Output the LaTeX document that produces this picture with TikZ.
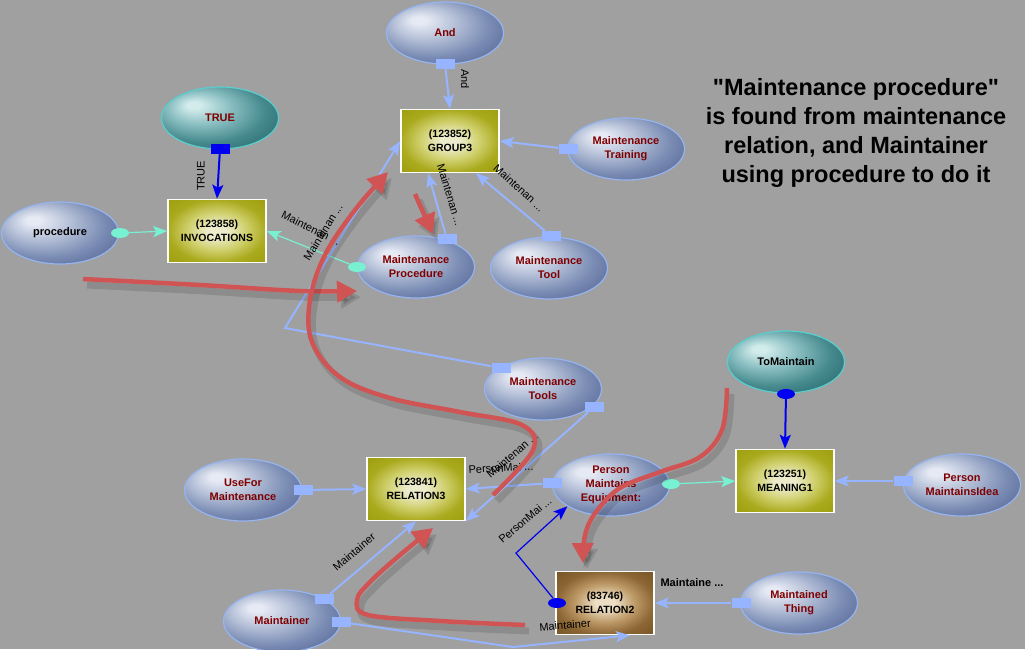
\documentclass[tikz,border=0pt]{standalone}
\usepackage{fontspec}
\setmainfont{Liberation Sans}[Ligatures=TeXOff]
\usetikzlibrary{shapes.geometric,arrows.meta,calc}
\definecolor{bg}{RGB}{160,160,160}
\definecolor{bl1}{RGB}{230,234,244}
\definecolor{bl2}{RGB}{182,193,216}
\definecolor{bl3}{RGB}{122,140,180}
\definecolor{bl4}{RGB}{86,104,148}
\definecolor{te1}{RGB}{210,235,235}
\definecolor{te2}{RGB}{140,192,195}
\definecolor{te3}{RGB}{70,138,142}
\definecolor{te4}{RGB}{38,105,110}
\definecolor{ol1}{RGB}{236,236,205}
\definecolor{ol2}{RGB}{208,208,110}
\definecolor{ol3}{RGB}{170,170,30}
\definecolor{ol4}{RGB}{158,158,15}
\definecolor{br1}{RGB}{236,222,196}
\definecolor{br2}{RGB}{190,155,105}
\definecolor{br3}{RGB}{140,102,52}
\definecolor{br4}{RGB}{120,86,40}
\definecolor{ellline}{RGB}{150,180,240}
\definecolor{tealline}{RGB}{90,205,205}
\definecolor{dred}{RGB}{128,0,0}
\definecolor{lblue}{RGB}{150,180,255}
\definecolor{cyanc}{RGB}{120,240,210}
\definecolor{dblue}{RGB}{0,0,240}
\definecolor{redc}{RGB}{208,84,84}
\pgfdeclareradialshading{blueball}{\pgfpoint{-12bp}{11bp}}{color(0bp)=(bl1); color(3bp)=(bl1); color(13bp)=(bl2); color(25bp)=(bl3); color(36bp)=(bl4); color(50bp)=(bl4)}
\pgfdeclareradialshading{tealball}{\pgfpoint{-12bp}{11bp}}{color(0bp)=(te1); color(3bp)=(te1); color(13bp)=(te2); color(25bp)=(te3); color(36bp)=(te4); color(50bp)=(te4)}
\pgfdeclareradialshading{oliveball}{\pgfpointorigin}{color(0bp)=(ol1); color(5bp)=(ol1); color(15bp)=(ol2); color(25bp)=(ol3); color(35bp)=(ol4); color(50bp)=(ol4)}
\pgfdeclareradialshading{brownball}{\pgfpointorigin}{color(0bp)=(br1); color(5bp)=(br1); color(15bp)=(br2); color(25bp)=(br3); color(35bp)=(br4); color(50bp)=(br4)}
\tikzset{
  ell/.style={ellipse, minimum width=117pt, minimum height=62pt, inner sep=0pt,
    draw=ellline, line width=1.2pt, shade, shading=blueball, text=dred, align=center,
    font=\bfseries\fontsize{11}{14}\selectfont},
  tealell/.style={ell, draw=tealline, shading=tealball},
  rect/.style={rectangle, minimum width=98pt, minimum height=63pt, inner sep=0pt,
    draw=white!85!ol1, line width=1.5pt, shade, shading=oliveball, align=center,
    font=\bfseries\fontsize{10.5}{14}\selectfont},
  brownrect/.style={rect, shading=brownball},
  sq/.style={rectangle, fill=lblue, minimum width=19pt, minimum height=10pt, inner sep=0pt},
  bsq/.style={sq, fill=dblue},
  cdot/.style={ellipse, fill=cyanc, minimum width=18pt, minimum height=10pt, inner sep=0pt},
  bdot/.style={cdot, fill=dblue},
  lk/.style={draw=lblue, line width=2pt, -{Stealth[length=14pt,width=11pt,inset=3pt]}},
  lkb/.style={draw=dblue, line width=1.2pt, -{Stealth[length=14pt,width=11pt,inset=3pt]}},
  lkbt/.style={draw=dblue, line width=2pt, -{Stealth[length=14pt,width=11pt,inset=3pt]}},
  lkc/.style={draw=cyanc, line width=1.2pt, -{Stealth[length=14pt,width=11pt,inset=3pt]}},
  lbl/.style={font=\fontsize{11}{13}\selectfont, inner sep=1pt},
  rarrow/.style={draw=redc, line width=4.5pt, -{Triangle[length=20pt,width=21pt]}},
  rshadow/.style={draw=black, draw opacity=0.12, line width=7pt, -{Triangle[length=20pt,width=21pt]}, fill opacity=0.12}
}
\newcommand{\redcurve}[1]{%
  \draw[rshadow, shift={(4,6)}] plot[smooth, tension=0.6] coordinates {#1};
  \draw[rarrow] plot[smooth, tension=0.6] coordinates {#1};}
\begin{document}
\begin{tikzpicture}[x=1pt,y=-1pt]
\fill[bg] (0,0) rectangle (1025,649);
\useasboundingbox (0,0) rectangle (1025,649);

% nodes
\node[ell] (and) at (445,33) {And};
\node[tealell] (true) at (220,118) {TRUE};
\node[rect] (group3) at (450,141) {(123852)\\GROUP3};
\node[ell] (mtrain) at (626,149) {Maintenance\\Training};
\node[rect] (inv) at (217,231) {(123858)\\INVOCATIONS};
\node[ell, text=black] (proc) at (60,233) {procedure};
\node[ell] (mproc) at (416,267) {Maintenance\\Procedure};
\node[ell] (mtool) at (549,268) {Maintenance\\Tool};
\node[ell] (mtools) at (543,389) {Maintenance\\Tools};
\node[tealell, text=black] (tomaint) at (786,362) {ToMaintain};
\node[ell] (usefor) at (243,490) {UseFor\\Maintenance};
\node[rect] (rel3) at (416,489) {(123841)\\RELATION3};
\node[ell] (pme) at (611,485) {Person\\Maintains\\Equipment:};
\node[rect] (mean) at (785,481) {(123251)\\MEANING1};
\node[ell] (pmi) at (962,485) {Person\\MaintainsIdea};
\node[ell] (maint) at (282,621) {Maintainer};
\node[brownrect] (rel2) at (605,603) {(83746)\\RELATION2};
\node[ell] (mthing) at (799,603) {Maintained\\Thing};

% tails
\node[sq] (sAnd) at (445,64) {};
\node[bsq] (sTrue) at (220,149) {};
\node[cdot] (dProc) at (120,233) {};
\node[cdot] (dMproc) at (357,267) {};
\node[sq] (sMproc) at (447,239) {};
\node[sq] (sMtool) at (551,236) {};
\node[sq] (sMtrain) at (568,149) {};
\node[sq] (sMtools1) at (501,368) {};
\coordinate (k1) at (285,328);
\node[sq] (sMtools2) at (594,407) {};
\node[sq] (sPme) at (552,483) {};
\node[bdot] (dRel2) at (557,603) {};
\coordinate (k2) at (516,553);
\node[cdot] (dPme) at (671,484) {};
\node[bdot] (dTom) at (786,394) {};
\node[sq] (sPmi) at (903,481) {};
\node[sq] (sMthing) at (741,603) {};
\node[sq] (sMaint1) at (324,599) {};
\node[sq] (sMaint2) at (341,622) {};
\coordinate (k3) at (513,647);
\node[sq] (sUse) at (303,490) {};

% links
\draw[lk] (sAnd) -- (group3.north);
\draw[lkbt] (sTrue) -- (inv.north);
\draw[lkc] (dProc) -- (inv.west);
\draw[lkc] (dMproc) -- (inv.east);
\draw[lk] (sMproc) -- ([xshift=-22pt]group3.south);
\draw[lk] (sMtool) -- ([xshift=26pt]group3.south);
\draw[lk] (sMtrain) -- (group3.east);
\draw[lk] (sMtools1) -- (k1) -- (group3.west);
\draw[lk] (sMtools2) -- (rel3.south east);
\draw[lk] (sPme) -- (rel3.east);
\draw[lkb] (dRel2) -- (k2) -- (pme.206);
\draw[lkc] (dPme) -- (mean.west);
\draw[lkbt] (dTom) -- (mean.north);
\draw[lk] (sPmi) -- (mean.east);
\draw[lk] (sMthing) -- (rel2.east);
\draw[lk] (sMaint1) -- (rel3.south);
\draw[lk] (sMaint2) -- (k3) -- ([xshift=25pt]rel2.south);
\draw[lk] (sUse) -- (rel3.west);

% link labels
\node[lbl, rotate=-90] (l1) at (465,79) {And};
\node[lbl, rotate=90] (l2) at (201,176) {TRUE};
\node[lbl, rotate=-26] (l3) at (311,228) {Maintenan ...};
\node[lbl, rotate=58] (l4) at (323,232) {Maintenan ...};
\node[lbl, rotate=-73] (l5) at (450,195) {Maintenan ...};
\node[lbl, rotate=-42] (l6) at (519,188) {Maintenan ...};
\node[lbl, rotate=41] (l7) at (512,455) {Maintenan ...};
\node[lbl, rotate=3] (l8) at (501,468) {PersonMai ...};
\node[lbl, rotate=40] (l9) at (525,520) {PersonMai ...};
\node[lbl, font=\bfseries\fontsize{11}{13}\selectfont] (l10) at (692,583) {Maintaine ...};
\node[lbl, rotate=40] (l11) at (354,552) {Maintainer};
\node[lbl, rotate=5] (l12) at (565,625) {Maintainer};

% red highlight arrows
\redcurve{(83,279) (200,285) (300,291) (357,291)}
\redcurve{(415,194) (433,234)}
\redcurve{(493,495) (533,450) (522,425) (460,412) (390,398) (340,377) (312,342) (310,300) (325,255) (355,210) (388,172)}
\redcurve{(727,388) (722,430) (700,457) (660,472) (620,488) (596,512) (585,535) (583,563)}
\redcurve{(525,625) (440,621) (368,615) (357,600) (370,582) (400,555) (433,528)}

% note
\node[font=\bfseries\fontsize{23.5}{29}\selectfont, align=center, text=black] (note) at (856,133) {"Maintenance procedure"\\is found from maintenance\\relation, and Maintainer\\using procedure to do it};
\end{tikzpicture}
\end{document}
